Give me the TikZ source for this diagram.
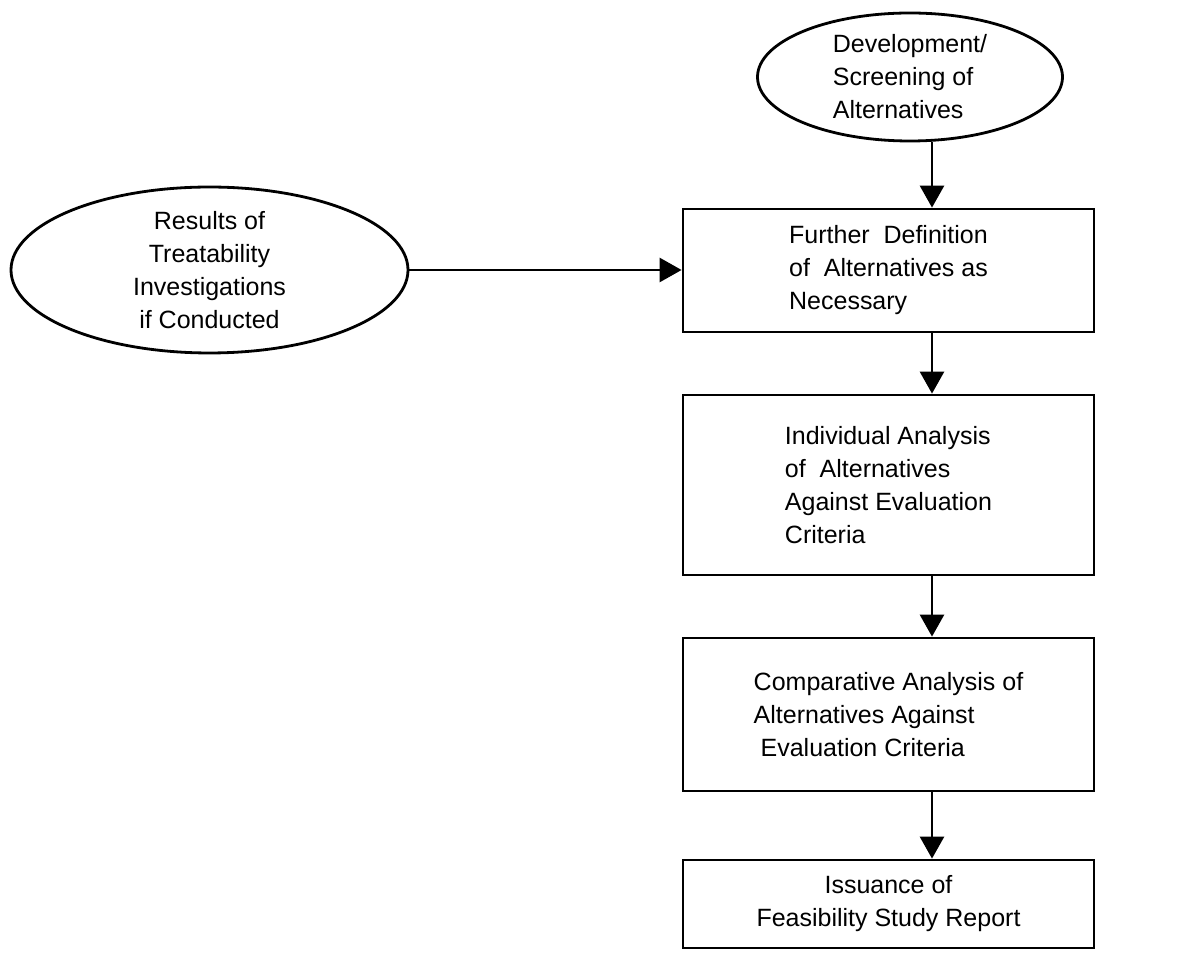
\documentclass[tikz,border=0pt]{standalone}
\usepackage{fontspec}
\setmainfont{Liberation Sans}
\usetikzlibrary{positioning,arrows.meta,shapes.geometric}

\begin{document}
\begin{tikzpicture} [node distance=30.1pt,
    box/.style={draw,line width=1.4pt,rectangle,minimum width=205.5pt,align=left,inner sep=0pt,font=\fontsize{12.5}{16.5}\selectfont},
    oval/.style={draw,line width=1.4pt,ellipse,inner sep=0pt,font=\fontsize{12.5}{16.5}\selectfont},
    flow/.style={-{Triangle[length=11pt,width=12pt]},line width=1.4pt}]
    \useasboundingbox (0,0) rectangle (590pt,-478pt);
    \coordinate (axis) at (466pt,0);

    \node[oval,minimum width=152.5pt,minimum height=64pt,align=left] (dev) at (455pt,-38.5pt) {Development/\\Screening of\\Alternatives};
    \node[box,minimum height=61.5pt] (further) at (444.25pt,-135.25pt) {Further\ \ Definition\\of\ \ Alternatives as\\Necessary};
    \node[box,minimum height=90pt,below=of further] (indiv) {Individual Analysis\\of\ \ Alternatives\\Against Evaluation\\Criteria};
    \node[box,minimum height=76.5pt,below=of indiv] (compar) {Comparative Analysis of\\Alternatives Against\\\ Evaluation Criteria};
    \node[box,minimum height=44pt,align=center,below=33.1pt of compar] (issue) {Issuance of\\Feasibility Study Report};
    \node[oval,minimum width=198.5pt,minimum height=70pt,align=center] (res) at (104.75pt,-135pt) {Results of\\Treatability\\Investigations\\if Conducted};

    \path (dev.south -| axis) edge [flow] (further.north -| axis);
    \path (further.south -| axis) edge [flow] (indiv.north -| axis);
    \path (indiv.south -| axis) edge [flow] (compar.north -| axis);
    \path (compar.south -| axis) edge [flow] (issue.north -| axis);
    \path (res.east) edge [flow] (res.east -| further.west);
\end{tikzpicture}
\end{document}
